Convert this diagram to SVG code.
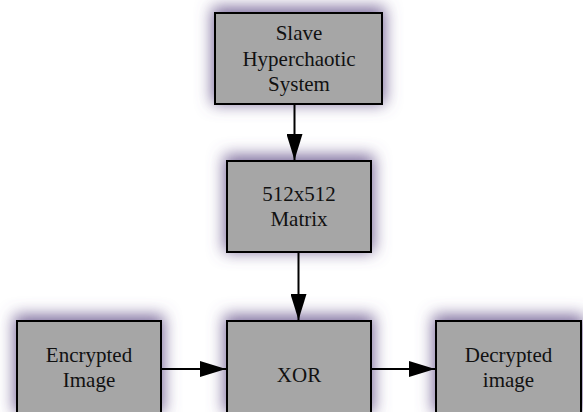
<svg xmlns="http://www.w3.org/2000/svg" width="583" height="412" viewBox="0 0 583 412">
<defs>
<filter id="glow" x="-40%" y="-40%" width="180%" height="180%">
<feMorphology in="SourceAlpha" operator="dilate" radius="2" result="d"/>
<feGaussianBlur in="d" stdDeviation="8" result="b"/>
<feOffset in="b" dx="0" dy="-3" result="o"/>
<feFlood flood-color="#6c5a90" flood-opacity="0.9"/>
<feComposite in2="o" operator="in" result="s"/>
<feMerge><feMergeNode in="s"/><feMergeNode in="SourceGraphic"/></feMerge>
</filter>
<marker id="arr" markerWidth="26" markerHeight="16" refX="26" refY="8" orient="auto" markerUnits="userSpaceOnUse">
<path d="M0,0 L26,8 L0,16 Z" fill="#000"/>
</marker>
</defs>
<style>
.box{fill:#a6a6a6;stroke:#000;stroke-width:2;filter:url(#glow)}
.t{font-family:'Liberation Serif','Times New Roman',serif;font-size:21px;fill:#111;text-anchor:middle}
.c{stroke:#000;stroke-width:2;fill:none;marker-end:url(#arr)}
</style>
<rect width="583" height="412" fill="#fff"/>
<g id="slave">
<rect class="box" x="215" y="13" width="167" height="91"/>
<text class="t" x="299" y="39.5">Slave</text>
<text class="t" x="299" y="65.5">Hyperchaotic</text>
<text class="t" x="299" y="91">System</text>
</g>
<g id="matrix">
<rect class="box" x="227" y="161" width="144" height="91"/>
<text class="t" x="299" y="201">512x512</text>
<text class="t" x="299" y="226">Matrix</text>
</g>
<g id="encrypted">
<rect class="box" x="17" y="321" width="144" height="92"/>
<text class="t" x="89" y="362">Encrypted</text>
<text class="t" x="89" y="387">Image</text>
</g>
<g id="xor">
<rect class="box" x="227" y="321" width="144" height="92"/>
<text class="t" x="299" y="382">XOR</text>
</g>
<g id="decrypted">
<rect class="box" x="436" y="321" width="145" height="92"/>
<text class="t" x="508.5" y="362">Decrypted</text>
<text class="t" x="508.5" y="387">image</text>
</g>
<g id="connectors">
<path class="c" d="M294.5,104 L294.5,160"/>
<path class="c" d="M298.5,252 L298.5,320"/>
<path class="c" d="M161,369 L226,369"/>
<path class="c" d="M371,369 L435,369"/>
</g>
</svg>
